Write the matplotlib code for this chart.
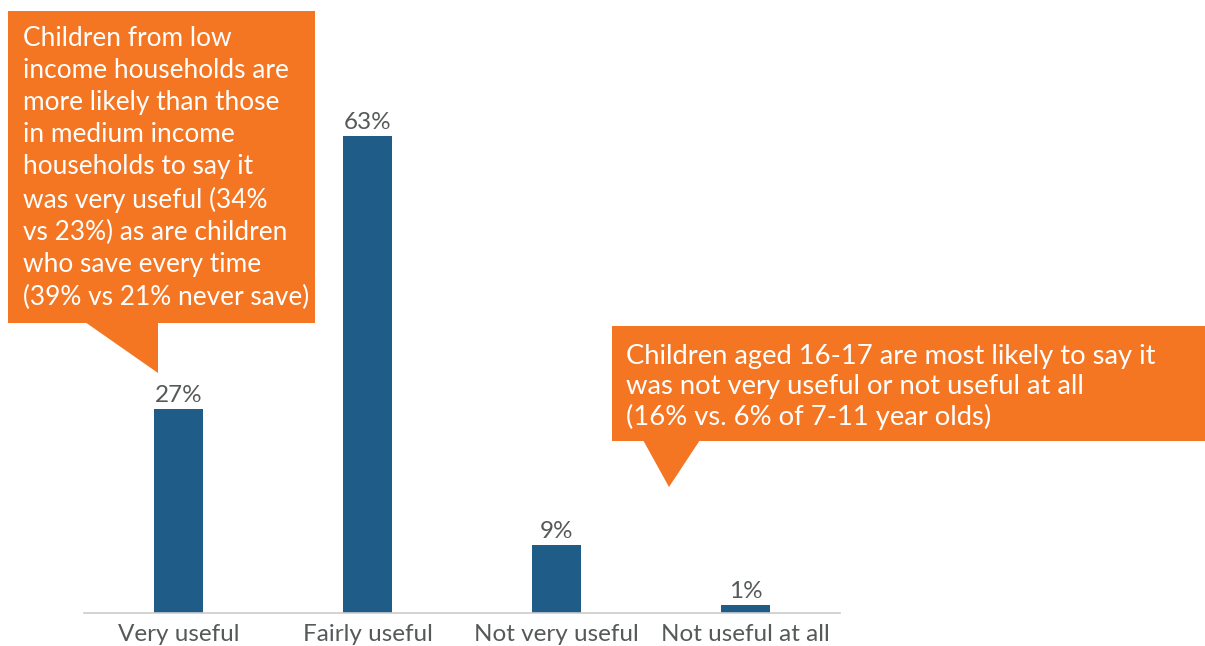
import numpy as np
import matplotlib
matplotlib.use("Agg")
import matplotlib.pyplot as plt
from matplotlib.patches import Polygon, Rectangle

plt.rcParams['font.family'] = ['Lato', 'DejaVu Sans']

categories = ['Very useful', 'Fairly useful', 'Not very useful', 'Not useful at all']
values = [27, 63, 9, 1]
value_labels = ['27%', '63%', '9%', '1%']

note_left = ('Children from low\nincome households are\nmore likely than those\n'
             'in medium income\nhouseholds to say it\nwas very useful (34%\n'
             'vs 23%) as are children\nwho save every time\n(39% vs 21% never save)')
note_right = ('Children aged 16-17 are most likely to say it\n'
              'was not very useful or not useful at all\n(16% vs. 6% of 7-11 year olds)')

bar_color = '#1F5C87'
orange = '#F47622'
grey_text = '#56595a'

W, H = 1205, 646
fig = plt.figure(figsize=(W / 100, H / 100), dpi=100)
ax = fig.add_axes([84 / W, 33 / H, 756 / W, 613 / H])

x = np.arange(len(categories))
ax.bar(x, values, width=0.254, color=bar_color)
for xi, v, lab in zip(x, values, value_labels):
    ax.text(xi, v + 0.4, lab, ha='center', va='bottom', fontsize=17.5, color=grey_text)

ax.set_xlim(-0.5, len(categories) - 0.5)
ax.set_ylim(0, 81)
ax.set_xticks(x)
ax.set_xticklabels(categories, fontsize=17.5, color=grey_text)
ax.tick_params(axis='x', length=0, pad=8)
ax.set_yticks([])
for s in ['top', 'right', 'left']:
    ax.spines[s].set_visible(False)
ax.spines['bottom'].set_color('#cccccc')
ax.spines['bottom'].set_linewidth(1.2)

# overlay in pixel coordinates for the callouts
ov = fig.add_axes([0, 0, 1, 1], zorder=5)
ov.set_xlim(0, W)
ov.set_ylim(H, 0)
ov.axis('off')
ov.patch.set_alpha(0)

ov.add_patch(Rectangle((8, 11), 307, 312, color=orange, lw=0))
ov.add_patch(Polygon([(85, 322), (158, 322), (158, 373)], closed=True, color=orange, lw=0))
ov.text(23, 26, note_left, ha='left', va='top', fontsize=18.9, color='white', linespacing=1.355)

ov.add_patch(Rectangle((612, 326), 593, 115, color=orange, lw=0))
ov.add_patch(Polygon([(643, 440), (700, 440), (669, 487)], closed=True, color=orange, lw=0))
ov.text(626, 344, note_right, ha='left', va='top', fontsize=19.7, color='white', linespacing=1.245)

fig.savefig('out.png', dpi=100)
